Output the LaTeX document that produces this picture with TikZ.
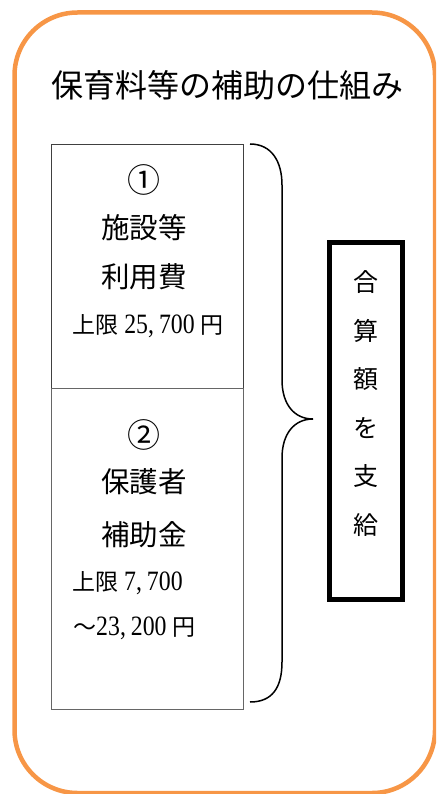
\documentclass[tikz,border=0pt]{standalone}
\usepackage{fontspec}
\newfontfamily\jp{Noto Sans CJK JP}
\newfontfamily\dg[FakeStretch=0.85]{Liberation Serif}
\definecolor{frameorange}{HTML}{F79646}
\newcommand{\dgt}[1]{{\dg\fontsize{28}{28}\selectfont #1}}
\newcommand{\cm}{,\hspace{5pt}}
\begin{document}
\begin{tikzpicture}[x=1pt,y=-1pt,
  frame/.style={draw=frameorange,line width=4.5pt,rounded corners=63pt},
  itembox/.style={draw=#1,line width=0.9pt,inner sep=0pt},
  sumbox/.style={draw=black,line width=5pt,inner sep=0pt,minimum width=73pt,minimum height=357pt},
  big/.style={font=\jp\fontsize{28.5}{28.5}\selectfont,inner sep=0pt},
  circ/.style={font=\jp\fontsize{33}{33}\selectfont,inner sep=0pt},
  small/.style={font=\jp\fontsize{23}{23}\selectfont,inner sep=0pt},
  brace/.style={draw=black,line width=1.5pt}]
\useasboundingbox (0,0) rectangle (436,794);
\begin{scope}
\clip (0,0) rectangle (436,794);
\draw[frame] (14.5,12.5) rectangle (435,793);
\end{scope}
\node[font=\jp\fontsize{32}{32}\selectfont,inner sep=0pt] (title) at (227,85) {保育料等の補助の仕組み};
% boxes
\node[itembox=black!75,minimum width=192pt,minimum height=244pt] (b1) at (147,266) {};
\node[itembox=black!60,minimum width=192pt,minimum height=321pt] (b2) at (147,548.5) {};
% box 1 texts
\node[circ] (n1) at (144,180) {①};
\node[big] (t1a) at (144,228) {施設等};
\node[big] (t1b) at (144,277) {利用費};
\node[small] (t1c) at (148,326) {上限\dgt{\ 25\cm700\ }円};
% box 2 texts
\node[circ] (n2) at (144,435) {②};
\node[big] (t2a) at (144,482) {保護者};
\node[big] (t2b) at (144,535) {補助金};
\node[small,anchor=west] (t2c) at (72,583) {上限\dgt{\ 7\cm700}};
\node[small,anchor=west] (t2d) at (73,628) {～\dgt{23\cm200\ }円};
% brace
\coordinate (btop) at (250,144);
\coordinate (btip) at (313,419);
\coordinate (bbot) at (250,702);
\draw[brace] (btop) .. controls (272,144) and (282,162) .. (282,185)
  -- (282,380) .. controls (282,404) and (294,419) .. (btip)
  .. controls (294,419) and (282,434) .. (282,458)
  -- (282,662) .. controls (282,688) and (272,702) .. (bbot);
% sum box
\node[sumbox] (sum) at (366,421) {};
\node[font=\jp\fontsize{25}{48.6}\selectfont,align=center,inner sep=0pt] (sumtext) at (366,403.5) {合\\算\\額\\を\\支\\給};
\end{tikzpicture}
\end{document}
